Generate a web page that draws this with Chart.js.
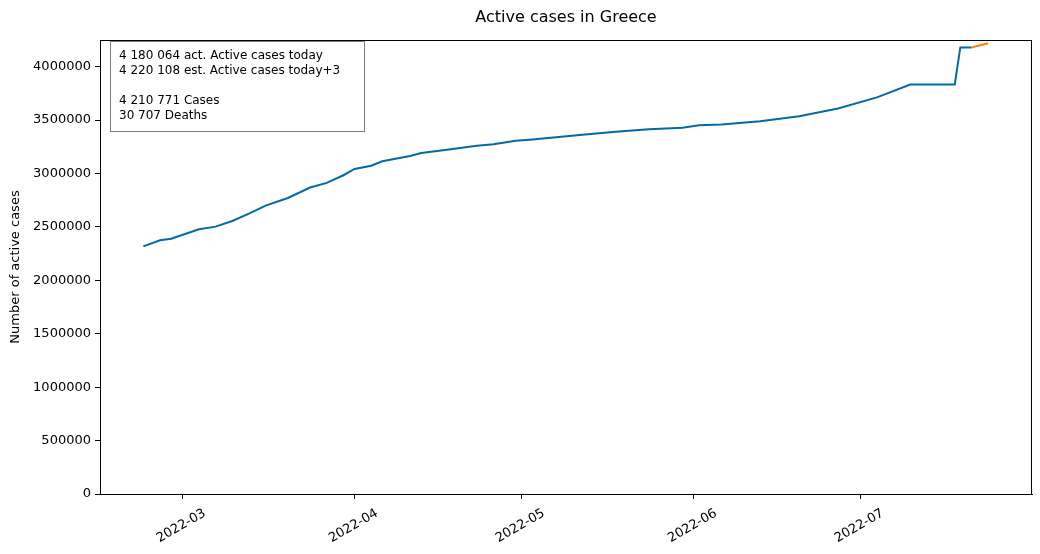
<!DOCTYPE html>
<html>
<head>
<meta charset="utf-8">
<script src="https://cdn.jsdelivr.net/npm/chart.js@4/dist/chart.umd.min.js"></script>
<style>
  body { margin: 0; background: #fff; }
  canvas { display: block; }
</style>
</head>
<body>
<canvas id="canvas" width="1040" height="554"></canvas>
<script>
// values
const dates = ["2022-02-22", "2022-02-25", "2022-02-27", "2022-03-04", "2022-03-07", "2022-03-10",
  "2022-03-13", "2022-03-16", "2022-03-20", "2022-03-24", "2022-03-27", "2022-03-30",
  "2022-04-01", "2022-04-04", "2022-04-06", "2022-04-11", "2022-04-13", "2022-04-18",
  "2022-04-23", "2022-04-26", "2022-04-30", "2022-05-03", "2022-05-12", "2022-05-18",
  "2022-05-24", "2022-05-30", "2022-06-02", "2022-06-06", "2022-06-13", "2022-06-20",
  "2022-06-27", "2022-07-04", "2022-07-10", "2022-07-18", "2022-07-19", "2022-07-21"];
const activeCases = [2318000, 2375000, 2389000, 2478000, 2503000, 2556000,
  2625000, 2700000, 2771000, 2869000, 2912000, 2984000,
  3043000, 3073000, 3115000, 3165000, 3193000, 3225000,
  3259000, 3275000, 3306000, 3319000, 3362000, 3390000,
  3415000, 3428000, 3453000, 3459000, 3490000, 3537000,
  3609000, 3713000, 3833000, 3833000, 4180064, 4180064];

const estDates = ["2022-07-21", "2022-07-24"];
const estCases = [4180064, 4220108];

const monthTicks = ["2022-03-01", "2022-04-01", "2022-05-01", "2022-06-01", "2022-07-01"];
const monthLabels = ["2022-03", "2022-04", "2022-05", "2022-06", "2022-07"];
const yTicks = [0, 500000, 1000000, 1500000, 2000000, 2500000, 3000000, 3500000, 4000000];

const infoLines = ["4 180 064 act. Active cases today", "4 220 108 est. Active cases today+3",
  "", "4 210 771 Cases", "30 707 Deaths"];

// day number from 2022-03-01
const base = Date.UTC(2022, 2, 1);
function day(s) {
  const p = s.split("-");
  return (Date.UTC(+p[0], +p[1] - 1, +p[2]) - base) / 86400000;
}

const actData = dates.map((d, i) => ({ x: day(d), y: activeCases[i] }));
const estData = estDates.map((d, i) => ({ x: day(d), y: estCases[i] }));

Chart.defaults.font.family = "DejaVu Sans";
Chart.defaults.font.size = 13;
Chart.defaults.color = "#000";

const extras = {
  id: "extras",
  afterDraw(chart) {
    const ctx = chart.ctx;
    const a = chart.chartArea;
    ctx.save();
    // frame
    ctx.strokeStyle = "#000";
    ctx.lineWidth = 1;
    ctx.strokeRect(a.left + 0.5, a.top + 0.5, a.right - a.left - 1, a.bottom - a.top);
    // title
    ctx.fillStyle = "#000";
    ctx.font = "16px DejaVu Sans";
    ctx.textAlign = "center";
    ctx.textBaseline = "middle";
    ctx.fillText("Active cases in Greece", (a.left + a.right) / 2, 18);
    // y title
    ctx.save();
    ctx.translate(16, (a.top + a.bottom) / 2);
    ctx.rotate(-Math.PI / 2);
    ctx.font = "13px DejaVu Sans";
    ctx.fillText("Number of active cases", 0, 0);
    ctx.restore();
    // x labels, rotated 30 deg, centred under tick
    const xs = chart.scales.x;
    ctx.font = "13px DejaVu Sans";
    monthTicks.forEach((m, i) => {
      const px = xs.getPixelForValue(day(m));
      ctx.save();
      ctx.translate(px - 1, 526);
      ctx.rotate(-Math.PI / 6);
      ctx.fillText(monthLabels[i], 0, 0);
      ctx.restore();
    });
    // info box
    ctx.fillStyle = "#fff";
    ctx.fillRect(110, 41, 254, 90);
    ctx.strokeStyle = "#808080";
    ctx.strokeRect(110.5, 41.5, 254, 90);
    ctx.fillStyle = "#000";
    ctx.font = "12px DejaVu Sans";
    ctx.textAlign = "left";
    infoLines.forEach((t, i) => ctx.fillText(t, 119, 56 + i * 15));
    ctx.restore();
  }
};

new Chart(document.getElementById("canvas"), {
  type: "line",
  data: {
    datasets: [
      { data: actData, borderColor: "#006BA4", borderWidth: 2, pointRadius: 0, tension: 0 },
      { data: estData, borderColor: "#FF800E", borderWidth: 2, pointRadius: 0, tension: 0 }
    ]
  },
  options: {
    responsive: false,
    animation: false,
    layout: { padding: { top: 40, right: 8, left: 0, bottom: 0 } },
    plugins: { legend: { display: false }, title: { display: false }, tooltip: { enabled: false } },
    scales: {
      x: {
        type: "linear",
        min: -14.8,
        max: 152.9,
        grid: { drawOnChartArea: false, drawTicks: true, tickLength: 5, tickColor: "#000" },
        border: { display: true, color: "#000" },
        ticks: { color: "rgba(0,0,0,0)", maxRotation: 0 },
        afterBuildTicks: (s) => { s.ticks = monthTicks.map(m => ({ value: day(m) })); },
        afterFit: (s) => { s.height = 60; }
      },
      y: {
        min: 0,
        max: 4250000,
        grid: { drawOnChartArea: false, drawTicks: true, tickLength: 5, tickColor: "#000" },
        border: { display: true, color: "#000" },
        ticks: { padding: 4, callback: (v) => String(v) },
        afterBuildTicks: (s) => { s.ticks = yTicks.map(v => ({ value: v })); },
        afterFit: (s) => { s.width = 100; }
      }
    }
  },
  plugins: [extras]
});
</script>
</body>
</html>
